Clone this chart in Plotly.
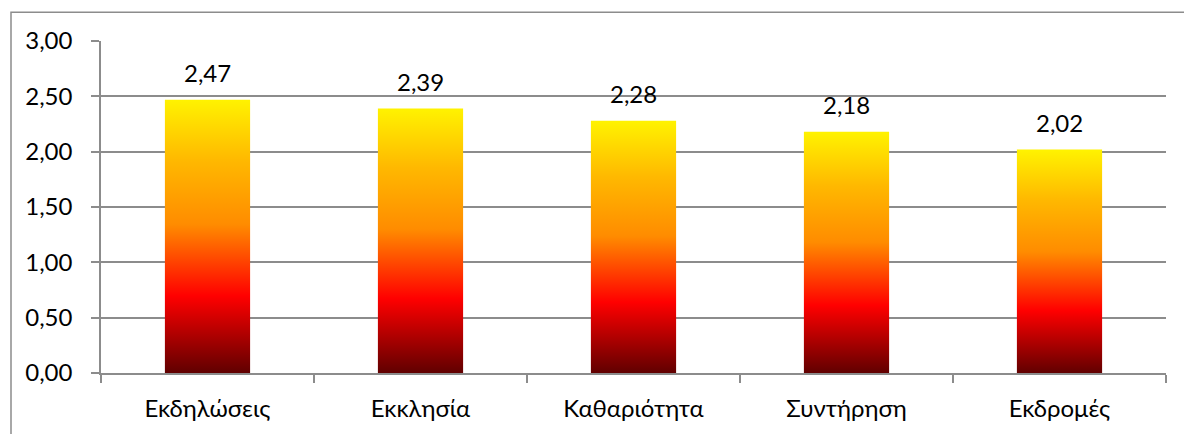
import plotly.graph_objects as go

categories = ["Εκδηλώσεις", "Εκκλησία", "Καθαριότητα", "Συντήρηση", "Εκδρομές"]
values = [2.47, 2.39, 2.28, 2.18, 2.02]
y_ticks = [0, 0.5, 1.0, 1.5, 2.0, 2.5, 3.0]

FONT = "Lato"
GRID = "#8c8c8c"
BAR_HALF = 0.2
fire = [[0.0, "#5a0000"], [0.29, "#ff0000"], [0.55, "#ff8c00"], [0.78, "#ffb800"], [1.0, "#fff200"]]

fig = go.Figure()

# invisible category trace to set up the categorical axis
fig.add_trace(go.Bar(x=categories, y=values, opacity=0,
                     marker=dict(color="rgba(0,0,0,0)", line=dict(width=0)),
                     hoverinfo="skip", showlegend=False))

for i, v in enumerate(values):
    xs = [i - BAR_HALF, i + BAR_HALF, i + BAR_HALF, i - BAR_HALF, i - BAR_HALF]
    ys = [0, 0, v, v, 0]
    fig.add_trace(go.Scatter(
        x=xs, y=ys, xaxis="x2", yaxis="y", mode="lines", line=dict(width=0),
        fill="toself",
        fillgradient=dict(type="vertical", colorscale=fire, start=0, stop=v),
        hoverinfo="skip", showlegend=False))
    fig.add_annotation(x=i, y=v, xref="x2", yref="y", text=f"{v:.2f}".replace(".", ","),
                       showarrow=False, yanchor="middle", yshift=27,
                       font=dict(family=FONT, size=24, color="#000"))

W, H = 1184, 434
ml, mr, mt, mb = 101, 18, 41, 58
pw, ph = W - ml - mr, H - mt - mb

fig.update_layout(
    width=W, height=H,
    margin=dict(l=ml, r=mr, t=mt, b=mb, pad=0),
    paper_bgcolor="white", plot_bgcolor="white",
    separators=", ",
    font=dict(family=FONT, size=24, color="#000"),
    showlegend=False,
    barmode="overlay",
    xaxis=dict(type="category", tickson="boundaries", ticks="outside", ticklen=8,
               tickcolor=GRID, tickwidth=1.5, showline=True, linecolor=GRID, linewidth=1.5,
               showgrid=False, range=[-0.5, 4.5], ticklabelstandoff=13,
               tickfont=dict(family=FONT, size=24, color="#000")),
    xaxis2=dict(overlaying="x", range=[-0.5, 4.5], visible=False, showgrid=False),
    yaxis=dict(range=[0, 3], tickvals=y_ticks, tickformat=".2f", ticks="outside", ticklen=8,
               tickcolor=GRID, tickwidth=1.5, showline=True, linecolor=GRID, linewidth=1.5,
               showgrid=True, gridcolor=GRID, gridwidth=1.5, zeroline=False,
               ticklabelstandoff=14,
               tickfont=dict(family=FONT, size=24, color="#000")),
    shapes=[dict(type="rect", xref="paper", yref="paper",
                 x0=(11 - ml) / pw, x1=1 + (mr + 20) / pw,
                 y0=-(mb + 20) / ph, y1=1 + (mt - 12) / ph,
                 line=dict(color=GRID, width=1.5), fillcolor="rgba(0,0,0,0)", layer="below")],
)

fig.write_html("out.html", config={"displayModeBar": False},
               post_script="document.body.style.margin='0px';document.body.style.overflow='hidden';")
